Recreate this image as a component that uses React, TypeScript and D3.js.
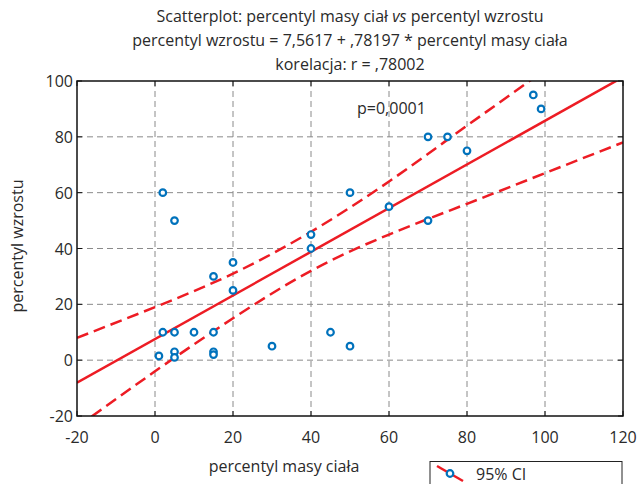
import * as d3 from "d3";

const masa = [2, 5, 20, 40, 40, 50, 97, 99, 70, 75, 80, 60, 70, 15, 20, 2, 5, 10, 15, 5, 5, 1, 15, 15, 30, 45, 50];
const wzrost = [60, 50, 35, 45, 40, 60, 95, 90, 80, 80, 75, 55, 50, 30, 25, 10, 10, 10, 10, 3, 1, 1.5, 3, 2, 5, 10, 5];

// fitted line read at the plot edges
const fitX = [-20, 120];
const fitY = [-8.1, 101.4];

// 95% CI bands
const ciX = [-20, 0, 20, 40, 60, 80, 100, 120];
const ciUpper = [8, 19, 31, 46, 64, 84, 104, 125];
const ciLower = [-24, -4, 15, 32, 45, 56, 67, 78];

const xTicks = [-20, 0, 20, 40, 60, 80, 100, 120];
const yTicks = [-20, 0, 20, 40, 60, 80, 100];

const titleLines = [
  "Scatterplot: percentyl masy ciał vs percentyl wzrostu",
  "percentyl wzrostu = 7,5617 + ,78197 * percentyl masy ciała",
  "korelacja: r = ,78002",
];

const W = 637, H = 484;
const left = 77, right = 623, top = 81, bottom = 416;
const RED = "#ed1c24";
const BLUE = "#0072bc";
const TXT = "#2a2a2a";
const FONT = "'Open Sans', sans-serif";

export default function App() {
  const x = d3.scaleLinear().domain([-20, 120]).range([left, right]);
  const y = d3.scaleLinear().domain([-20, 100]).range([bottom, top]);

  const line = d3.line<[number, number]>().x(d => x(d[0])).y(d => y(d[1]));
  const curve = d3.line<[number, number]>().x(d => x(d[0])).y(d => y(d[1])).curve(d3.curveNatural);

  const fitPts = fitX.map((v, i) => [v, fitY[i]] as [number, number]);
  const upPts = ciX.map((v, i) => [v, ciUpper[i]] as [number, number]);
  const loPts = ciX.map((v, i) => [v, ciLower[i]] as [number, number]);

  return (
    <svg width={W} height={H} style={{ position: "absolute", left: 0, top: 0, background: "#fff" }} fontFamily={FONT}>
      <defs>
        <clipPath id="plot">
          <rect x={left} y={top} width={right - left} height={bottom - top} />
        </clipPath>
      </defs>
      <rect width={W} height={H} fill="#fff" />

      {titleLines.map((t, i) => (
        <text key={i} x={(left + right) / 2} y={22 + i * 24} textAnchor="middle" fontSize={16} fill={TXT}>
          {i === 0 ? (
            <>
              Scatterplot: percentyl masy ciał <tspan fontStyle="italic">vs</tspan> percentyl wzrostu
            </>
          ) : t}
        </text>
      ))}

      {/* grid */}
      {xTicks.slice(1, -1).map(t => (
        <line key={"gx" + t} x1={x(t)} x2={x(t)} y1={top} y2={bottom} stroke="#8a8a8a" strokeDasharray="6,4" />
      ))}
      {yTicks.slice(1, -1).map(t => (
        <line key={"gy" + t} x1={left} x2={right} y1={y(t)} y2={y(t)} stroke="#8a8a8a" strokeDasharray="6,4" />
      ))}

      <g clipPath="url(#plot)">
        <path d={curve(upPts) ?? ""} fill="none" stroke={RED} strokeWidth={2.5} strokeDasharray="12,6" />
        <path d={curve(loPts) ?? ""} fill="none" stroke={RED} strokeWidth={2.5} strokeDasharray="12,6" />
        <path d={line(fitPts) ?? ""} fill="none" stroke={RED} strokeWidth={2.5} />
      </g>

      {masa.map((m, i) => (
        <circle key={i} cx={x(m)} cy={y(wzrost[i])} r={3.3} fill="#fff" stroke={BLUE} strokeWidth={2.2} />
      ))}

      {/* frame and ticks */}
      <rect x={left} y={top} width={right - left} height={bottom - top} fill="none" stroke="#111" strokeWidth={1.5} />
      {xTicks.map(t => (
        <g key={"tx" + t}>
          <line x1={x(t)} x2={x(t)} y1={bottom} y2={bottom - 5} stroke="#111" />
          <line x1={x(t)} x2={x(t)} y1={top} y2={top + 5} stroke="#111" />
          <text x={x(t)} y={bottom + 27} textAnchor="middle" fontSize={16} fill={TXT}>{t}</text>
        </g>
      ))}
      {yTicks.map(t => (
        <g key={"ty" + t}>
          <line x1={left} x2={left + 5} y1={y(t)} y2={y(t)} stroke="#111" />
          <line x1={right} x2={right - 5} y1={y(t)} y2={y(t)} stroke="#111" />
          <text x={left - 4} y={y(t) + 6} textAnchor="end" fontSize={16} fill={TXT}>{t}</text>
        </g>
      ))}

      <text x={357} y={114} fontSize={16} fill={TXT}>p=0,0001</text>

      <text x={284} y={472} textAnchor="middle" fontSize={16} fill={TXT}>percentyl masy ciała</text>
      <text transform={`translate(23,246) rotate(-90)`} textAnchor="middle" fontSize={16} fill={TXT}>percentyl wzrostu</text>

      {/* legend */}
      <rect x={430} y={461.5} width={192} height={30} fill="#fff" stroke="#222" strokeWidth={1} />
      <line x1={437} y1={466} x2={463} y2={481} stroke={RED} strokeWidth={2.5} />
      <circle cx={450} cy={473.5} r={3.3} fill="#fff" stroke={BLUE} strokeWidth={2.2} />
      <text x={476} y={480} fontSize={16} fill={TXT}>95% CI</text>
    </svg>
  );
}
